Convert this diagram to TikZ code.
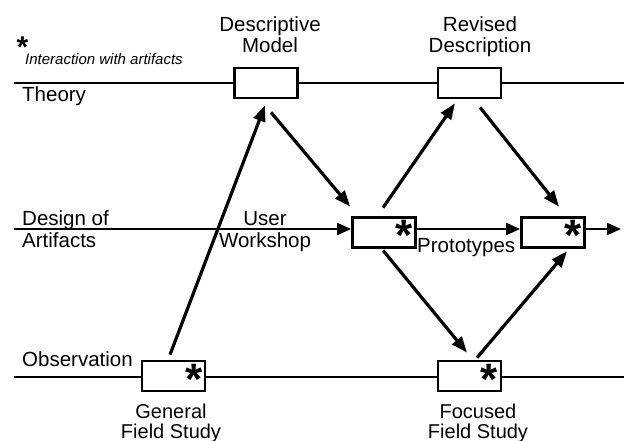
\documentclass[tikz,border=0pt]{standalone}
\usepackage{fontspec}
\setmainfont{Liberation Sans}
\usetikzlibrary{arrows.meta,calc}
\begin{document}
\begin{tikzpicture}[x=1pt,y=-1pt,
  lbl/.style={inner sep=0pt, font=\fontsize{20.5}{21}\selectfont},
  lbltight/.style={inner sep=0pt, font=\fontsize{20}{19.5}\selectfont},
  box/.style={draw, line width=2.7pt, fill=white, minimum width=63pt, minimum height=30pt, inner sep=0pt},
  track/.style={line width=2pt},
  arr/.style={line width=3.2pt, -{Triangle[length=16pt,width=12pt]}},
  harr/.style={line width=2pt, -{Triangle[length=14pt,width=12pt]}},
  star/.style={inner sep=0pt, anchor=north, font=\fontsize{44}{44}\selectfont\bfseries},
]
\useasboundingbox (0,0) rectangle (624,441);
\coordinate (thL) at (14,83);
\coordinate (thR) at (624,83);
\coordinate (obL) at (14,377);
\coordinate (obR) at (624,377);
\coordinate (deL) at (14,229);
\coordinate (deR) at (621,229);
\draw[track] (thL) -- (thR);
\draw[track] (obL) -- (obR);

\node[box] (dm) at (266,83) {};
\node[box] (rd) at (469.5,83) {};
\node[box] (uw) at (384,232.5) {};
\node[box] (pr) at (553,232.5) {};
\node[box] (gf) at (173.5,376) {};
\node[box] (ff) at (469.5,376) {};

\draw[harr] (deL) -- (deL -| uw.west);
\draw[harr] (uw.east |- deL) -- (pr.west |- deL);
\draw[harr] (pr.east |- deL) -- (deR);

\draw[arr] ([shift={(-3.5,-5)}]gf.north) -- ([shift={(-1,6)}]dm.south);
\draw[arr] ([shift={(5,13)}]dm.south) -- ([shift={(-1,-9.5)}]uw.north west);
\draw[arr] ([shift={(-1,-8.5)}]uw.north) -- ([shift={(-14.5,4)}]rd.south);
\draw[arr] ([shift={(10.5,8)}]rd.south) -- ([shift={(6,-9.5)}]pr.north);
\draw[arr] ([shift={(-1,1.5)}]uw.south) -- ([shift={(-2.5,-7)}]ff.north);
\draw[arr] ([shift={(7.5,-2)}]ff.north) -- ([shift={(14,2.5)}]pr.south);

\node[star] (s1) at ([shift={(-12.5,4)}]uw.north east) {*};
\node[star] (s2) at ([shift={(-12.5,4)}]pr.north east) {*};
\node[star] (s3) at ([shift={(-12.5,4.5)}]gf.north east) {*};
\node[star] (s4) at ([shift={(-13,4.5)}]ff.north east) {*};
\node[star, font=\fontsize{30}{30}\selectfont\bfseries] (s0) at (22.5,37) {*};

\node[lbl, anchor=base, align=center] (dmL) at (270,53) {Descriptive\\Model};
\node[lbl, anchor=base, align=center] (rdL) at (480,53) {Revised\\Description};
\node[lbl, anchor=base, align=center] (uwL) at (265,247) {User\\Workshop};
\node[lbltight, anchor=base, align=center] (gfL) at (171,438) {General\\Field Study};
\node[lbltight, anchor=base, align=center] (ffL) at (478,438) {Focused\\Field Study};
\node[lbl, anchor=base west] (thT) at (22,102) {Theory};
\node[lbl, anchor=base west, align=left] (deT) at (22,247) {Design of\\Artifacts};
\node[lbl, anchor=base west] (obT) at (22,366) {Observation};
\node[lbl, anchor=base west] (prT) at (417,252) {Prototypes};
\node[inner sep=0pt, anchor=base west, font=\fontsize{15}{15}\selectfont\itshape] (iaT) at (25,65) {Interaction with artifacts};
\end{tikzpicture}
\end{document}
